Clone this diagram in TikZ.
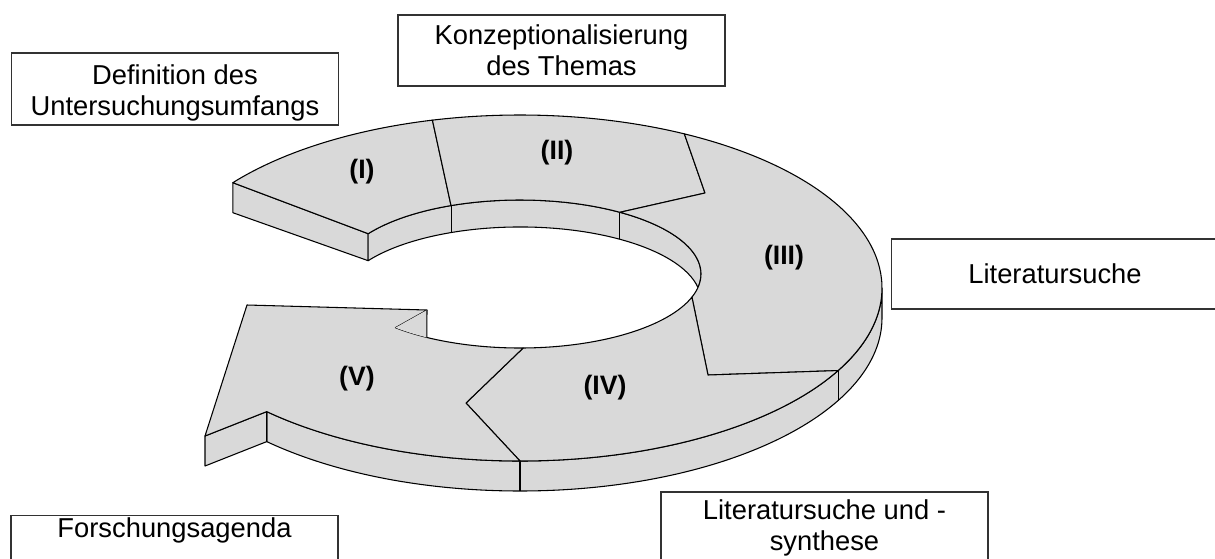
\documentclass[tikz,border=0pt]{standalone}
\usepackage{fontspec}
\setmainfont{Liberation Sans}
\usepackage{tikz}
\usetikzlibrary{calc}
\usepackage{xcolor}
\definecolor{ringfill}{RGB}{217,217,217}
\definecolor{boxline}{RGB}{50,50,50}

\begin{document}
\begin{tikzpicture}[x=0.75pt,y=0.75pt,yscale=-1,xscale=1,
  face/.style={draw=black,fill=ringfill,line width=0.8pt,line join=round},
  edge/.style={draw=black,line width=0.8pt},
  stepno/.style={font=\fontsize{20}{24}\selectfont\bfseries,inner sep=0pt},
  labelbox/.style={draw=boxline,line width=0.9pt,fill=white,align=center,inner sep=0pt,minimum width=245.25pt,font=\fontsize{20.5}{23.25}\selectfont}]
\useasboundingbox (0,0) rectangle (1215,558);

% centres of the two rim ellipses
\coordinate (oc) at (520,288);
\coordinate (ic) at (520,274);
% outer rim
\coordinate (o0) at ($(oc)+(0:362 and 173)$);
\coordinate (o1) at ($(oc)+(217.5:362 and 173)$);
\coordinate (o2) at ($(oc)+(256:362 and 173)$);
\coordinate (o3) at ($(oc)+(297:362 and 173)$);
\coordinate (o4) at ($(oc)+(28.5:362 and 173)$);
\coordinate (o5) at ($(oc)+(90:362 and 173)$);
\coordinate (o6) at ($(oc)+(134.4:362 and 173)$);
% inner rim
\coordinate (i1) at ($(ic)+(213:181 and 74)$);
\coordinate (i2) at ($(ic)+(247.6:181 and 74)$);
\coordinate (i3) at ($(ic)+(303.5:181 and 74)$);
\coordinate (i4) at ($(ic)+(18.2:181 and 74)$);
\coordinate (i5) at ($(ic)+(89:181 and 74)$);
\coordinate (i6) at ($(ic)+(133.5:181 and 74)$);
\coordinate (i7) at ($(ic)+(121:181 and 74)$);
% chevron tips and arrow head
\coordinate (t2) at (705,193);
\coordinate (t3) at (708,375);
\coordinate (t4) at (466,403);
\coordinate (hl) at (205,436);
\coordinate (ht) at (247,305);
\coordinate (hr) at (427,310);

%Shape: outer side wall
\path[face] (o0) arc[start angle=0,end angle=134.4,x radius=362,y radius=173] -- ++(0,30) arc[start angle=134.4,end angle=0,x radius=362,y radius=173] -- cycle;
%Shape: front of arrow head
\path[face] (hl) -- (o6) -- ++(0,30) -- ($(hl)+(0,30)$) -- cycle;
%Shape: end face of (I)
\path[face] (o1) -- (i1) -- ++(0,27) -- ($(o1)+(0,30)$) -- cycle;
%Shape: inner wall
\path[face] (i1) arc[start angle=213,end angle=370.5,x radius=181,y radius=74] arc[start angle=349.5,end angle=213,x radius=181,y radius=74] -- cycle;
\draw[edge] (o4) -- ++(0,30);
\draw[edge] (o5) -- ++(0,30);
\draw[edge] (i2) -- ++(0,27);
\draw[edge] (i3) -- ++(0,27);

%Shape: segment (I)
\path[face] (o1) arc[start angle=217.5,end angle=256,x radius=362,y radius=173] -- (i2) arc[start angle=247.6,end angle=213,x radius=181,y radius=74] -- cycle;
%Shape: segment (II)
\path[face] (o2) arc[start angle=256,end angle=297,x radius=362,y radius=173] -- (t2) -- (i3) arc[start angle=303.5,end angle=247.6,x radius=181,y radius=74] -- cycle;
%Shape: segment (III)
\path[face] (o3) arc[start angle=297,end angle=388.5,x radius=362,y radius=173] -- (t3) -- (i4) arc[start angle=378.2,end angle=303.5,x radius=181,y radius=74] -- (t2) -- cycle;
%Shape: segment (IV)
\path[face] (o4) arc[start angle=28.5,end angle=90,x radius=362,y radius=173] -- (t4) -- (i5) arc[start angle=89,end angle=18.2,x radius=181,y radius=74] -- (t3) -- cycle;
%Shape: segment (V)
\path[face] (o5) arc[start angle=90,end angle=134.4,x radius=362,y radius=173] -- (hl) -- (ht) -- (hr) -- (i6) arc[start angle=133.5,end angle=89,x radius=181,y radius=74] -- (t4) -- cycle;
\fill[ringfill] (hr) -- (i6) arc[start angle=133.5,end angle=121,x radius=181,y radius=74] -- cycle;
\draw[edge] (hr) -- (i7);

% Text Node
\node [stepno] (n1) at (362,172) {(I)};
% Text Node
\node [stepno] (n2) at (557,153) {(II)};
% Text Node
\node [stepno] (n3) at (784,258) {(III)};
% Text Node
\node [stepno] (n4) at (605,388) {(IV)};
% Text Node
\node [stepno] (n5) at (357,379) {(V)};

% Text Node
\node [labelbox,minimum height=54pt,text height=45pt,text depth=6pt] (scope) at (175,89) {Definition des\\Untersuchungsumfangs};
% Text Node
\node [labelbox,minimum height=53.25pt] (concept) at (561.5,50.5) {Konzeptionalisierung\\des Themas};
% Text Node
\node [labelbox,minimum height=52.5pt] (search) at (1055,274) {Literatursuche};
% Text Node
\node [labelbox,minimum height=54pt] (synth) at (824.5,528) {Literatursuche und -\\synthese};
% Text Node
\node [labelbox,anchor=north,text height=16.5pt,text depth=45pt] (agenda) at (174.5,515) {Forschungsagenda};

\end{tikzpicture}
\end{document}
